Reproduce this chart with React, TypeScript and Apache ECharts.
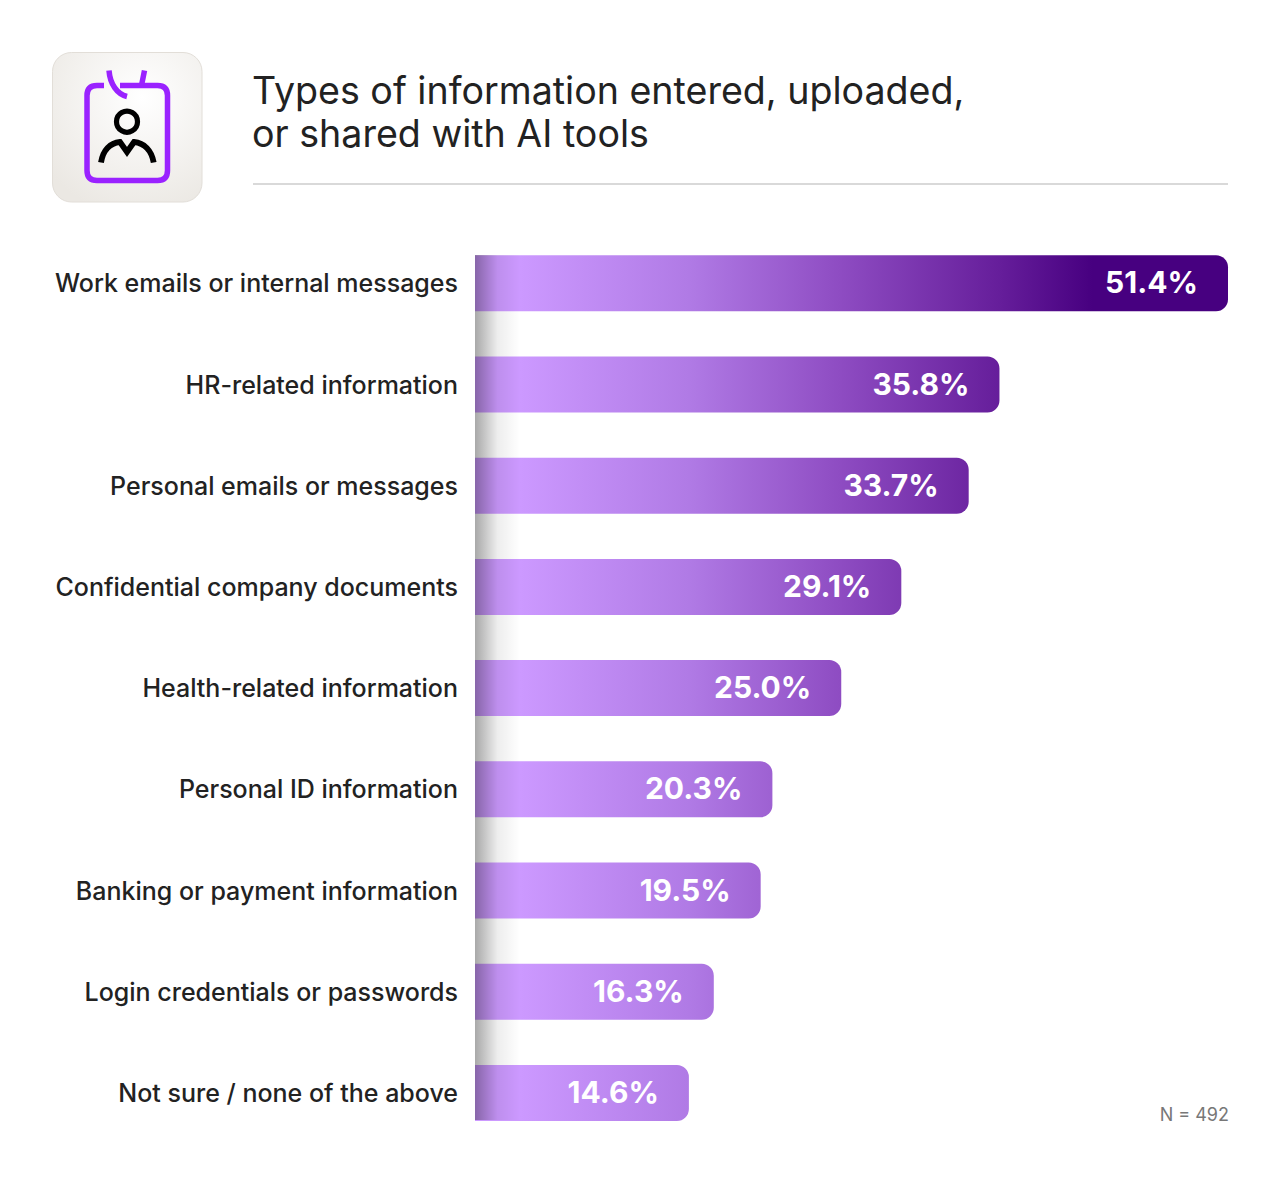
import React, { useEffect, useRef } from "react";
import * as echarts from "echarts";

const categories = [
  "Work emails or internal messages",
  "HR-related information",
  "Personal emails or messages",
  "Confidential company documents",
  "Health-related information",
  "Personal ID information",
  "Banking or payment information",
  "Login credentials or passwords",
  "Not sure / none of the above",
];
const shares = [51.4, 35.8, 33.7, 29.1, 25.0, 20.3, 19.5, 16.3, 14.6];
const titleText = "Types of information entered, uploaded,\nor shared with AI tools";
const sampleNote = "N = 492";

const FONT = "Inter";

const cardPath =
  "M104 85.5 H97 Q87 85.5 87 95.5 V170.5 Q87 180.5 97 180.5 H157.5 Q167.5 180.5 167.5 170.5 V95.5 Q167.5 85.5 157.5 85.5 H120";
const lanyardPath = "M109 70.5 C110 84 117 94 127 96.5 M144.5 70.5 L141.5 85.5";
const shouldersPath =
  "M101 162.5 C103 150 110 143 120 142 L127 152 L134 142 C144 143 151.5 150 153.7 162.5";

echarts.graphic.registerShape("idCard", echarts.graphic.extendPath(cardPath, {}));
echarts.graphic.registerShape("idLanyard", echarts.graphic.extendPath(lanyardPath, {}));
echarts.graphic.registerShape("idShoulders", echarts.graphic.extendPath(shouldersPath, {}));

export default function App() {
  const ref = useRef<HTMLDivElement>(null);
  useEffect(() => {
    document.body.style.margin = "0";
    const chart = echarts.init(ref.current!, undefined, { renderer: "svg" });
    chart.setOption({
      animation: false,
      backgroundColor: "#ffffff",
      title: {
        text: titleText,
        left: 247,
        top: 64,
        textStyle: { fontFamily: FONT, fontSize: 37.6, fontWeight: 400, color: "#222222", lineHeight: 43 },
      },
      grid: { left: 475, right: 52, top: 232.7, height: 910.8, containLabel: false },
      xAxis: { type: "value", min: 0, max: 51.4, show: false },
      yAxis: {
        type: "category",
        inverse: true,
        data: categories,
        axisLine: { show: false },
        axisTick: { show: false },
        axisLabel: { margin: 17, fontFamily: FONT, fontSize: 25, fontWeight: 500, color: "#222222", padding: [0, 0, 2, 0] },
      },
      series: [
        {
          type: "bar",
          data: shares,
          barWidth: 56,
          z: 2,
          itemStyle: {
            borderRadius: [0, 12, 12, 0],
            color: {
              type: "linear",
              global: true,
              x: 475,
              y: 0,
              x2: 1228,
              y2: 0,
              colorStops: [
                { offset: 0, color: "#cc99ff" },
                { offset: 0.06, color: "#cc99ff" },
                { offset: 0.285, color: "#b07ae5" },
                { offset: 0.485, color: "#8e4cc2" },
                { offset: 0.7, color: "#651d9a" },
                { offset: 0.82, color: "#470080" },
                { offset: 1, color: "#470080" },
              ],
            },
          },
          label: {
            show: true,
            position: "insideRight",
            distance: 30,
            offset: [0, -1],
            formatter: (p: any) => `${p.value.toFixed(1)}%`,
            fontFamily: FONT,
            fontSize: 30,
            fontWeight: 700,
            color: "#ffffff",
          },
        },
      ],
      graphic: [
        {
          type: "rect",
          z: 5,
          shape: { x: 475, y: 255, width: 45, height: 865 },
          style: {
            fill: {
              type: "linear",
              x: 0,
              y: 0,
              x2: 1,
              y2: 0,
              colorStops: [
                { offset: 0, color: "rgba(0,0,0,0.34)" },
                { offset: 0.5, color: "rgba(0,0,0,0.07)" },
                { offset: 1, color: "rgba(0,0,0,0)" },
              ],
            },
          },
        },
        {
          type: "rect",
          z: 1,
          shape: { x: 52.5, y: 52.5, width: 149.5, height: 149.5, r: 19 },
          style: {
            stroke: "#e2ded8",
            lineWidth: 1,
            fill: {
              type: "radial",
              x: 0.6,
              y: 0.3,
              r: 0.8,
              colorStops: [
                { offset: 0, color: "#ffffff" },
                { offset: 1, color: "#ebe8e3" },
              ],
            },
          },
        },
        { type: "idCard", z: 2, style: { fill: "none", stroke: "#9a22ff", lineWidth: 5.5 } },
        { type: "idLanyard", z: 2, style: { fill: "none", stroke: "#9a22ff", lineWidth: 5.5 } },
        { type: "circle", z: 2, shape: { cx: 127, cy: 121.7, r: 10.5 }, style: { fill: "none", stroke: "#000000", lineWidth: 5.2 } },
        { type: "idShoulders", z: 2, style: { fill: "none", stroke: "#000000", lineWidth: 5.8 } },
        { type: "line", z: 1, shape: { x1: 253, y1: 184, x2: 1228, y2: 184 }, style: { stroke: "#d9d9d9", lineWidth: 2 } },
        {
          type: "text",
          z: 3,
          x: 1229,
          y: 1114,
          style: { text: sampleNote, align: "right", verticalAlign: "middle", fontFamily: FONT, fontSize: 18, fill: "#777777" },
        },
      ],
    });
    return () => chart.dispose();
  }, []);
  return <div ref={ref} style={{ position: "absolute", left: 0, top: 0, width: 1280, height: 1182 }} />;
}
